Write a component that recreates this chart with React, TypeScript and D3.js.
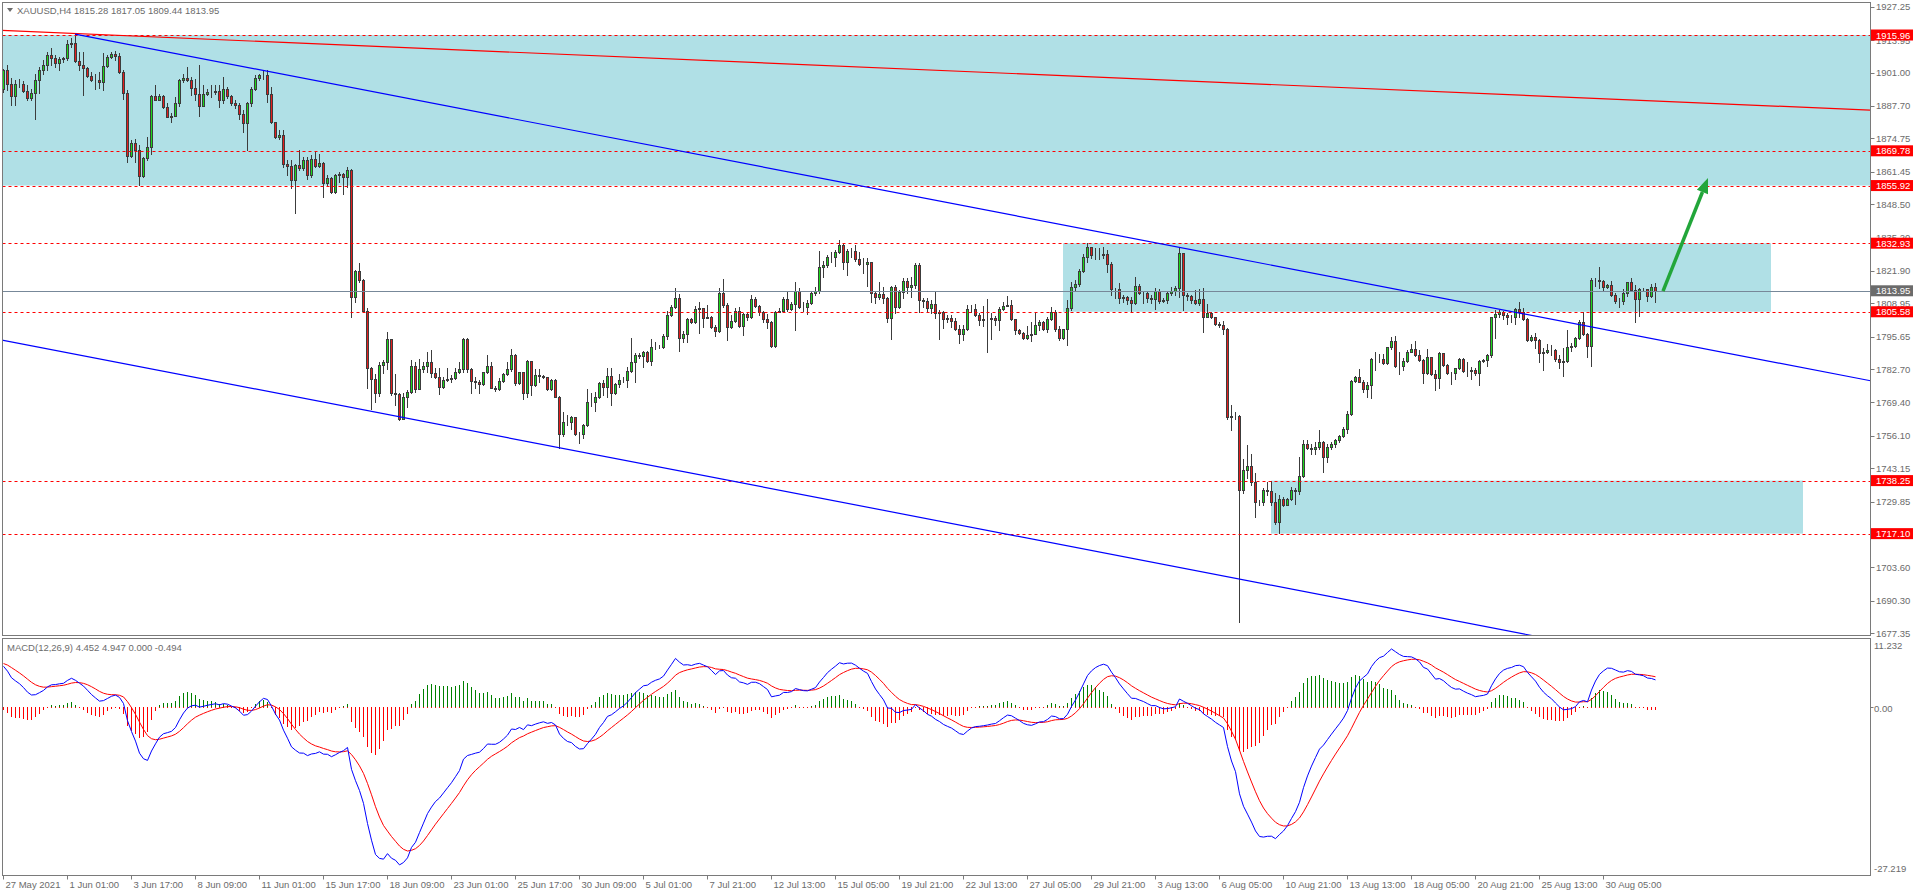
import * as d3 from 'd3';

// header texts
const symbolLabel = 'XAUUSD,H4';
const lastOHLC = ['1815.28', '1817.05', '1809.44', '1813.95'];
const macdHeader = 'MACD(12,26,9) 4.452 4.947 0.000 -0.494';

// H4 candles (open = previous close)
const firstOpen = 1894.6;
const close = [
  1902.0, 1896.6, 1891.7, 1896.6, 1896.4, 1893.7, 1890.9, 1892.8, 1898.2, 1902.2,
  1903.8, 1907.8, 1906.9, 1904.6, 1906.3, 1906.6, 1912.3, 1912.6, 1905.7, 1903.8,
  1903.0, 1899.6, 1898.0, 1898.2, 1897.3, 1903.6, 1907.3, 1908.5, 1907.7, 1901.3,
  1893.0, 1867.8, 1872.7, 1870.0, 1859.9, 1866.8, 1871.1, 1891.6, 1890.2, 1891.6,
  1887.1, 1883.3, 1883.6, 1888.7, 1898.0, 1899.0, 1898.2, 1894.9, 1892.6, 1887.7,
  1892.6, 1893.3, 1893.2, 1893.6, 1890.2, 1894.6, 1891.6, 1888.7, 1887.9, 1884.4,
  1881.0, 1888.7, 1894.6, 1899.0, 1900.0, 1900.2, 1892.6, 1881.1, 1875.4, 1876.0,
  1864.5, 1863.8, 1858.3, 1864.3, 1863.0, 1866.0, 1860.3, 1866.4, 1863.8, 1865.1,
  1856.8, 1859.1, 1853.4, 1860.0, 1860.5, 1859.4, 1862.1, 1811.5, 1821.9, 1818.2,
  1805.9, 1783.2, 1778.6, 1773.0, 1784.5, 1785.6, 1794.6, 1773.0, 1772.7, 1763.0,
  1771.6, 1773.6, 1783.9, 1774.6, 1782.9, 1783.8, 1785.4, 1781.0, 1779.7, 1775.7,
  1778.4, 1778.8, 1779.0, 1781.4, 1782.7, 1794.6, 1782.7, 1778.0, 1777.7, 1776.6,
  1781.4, 1783.9, 1775.3, 1774.8, 1778.0, 1780.7, 1782.6, 1788.3, 1777.0, 1781.4,
  1773.3, 1785.9, 1776.3, 1780.3, 1780.0, 1779.7, 1774.6, 1778.4, 1771.7, 1756.7,
  1761.7, 1761.7, 1763.5, 1756.7, 1756.7, 1760.4, 1769.4, 1769.4, 1771.4, 1777.0,
  1775.7, 1779.9, 1773.3, 1776.6, 1778.4, 1778.4, 1781.9, 1785.4, 1788.3, 1787.9,
  1789.6, 1786.1, 1791.4, 1791.4, 1791.6, 1795.9, 1804.3, 1807.3, 1811.2, 1795.2,
  1796.6, 1802.5, 1801.6, 1806.5, 1806.9, 1803.2, 1803.4, 1799.6, 1798.0, 1812.9,
  1808.3, 1799.6, 1802.0, 1806.0, 1800.0, 1804.5, 1803.5, 1810.7, 1808.0, 1805.6,
  1802.5, 1801.6, 1792.0, 1805.6, 1805.9, 1810.7, 1806.5, 1808.7, 1813.9, 1807.3,
  1807.3, 1808.9, 1812.9, 1814.0, 1823.3, 1824.2, 1827.5, 1827.5, 1829.3, 1832.2,
  1825.3, 1829.8, 1829.8, 1826.5, 1824.5, 1824.5, 1825.3, 1812.9, 1811.6, 1812.5,
  1810.9, 1802.9, 1815.3, 1807.6, 1813.3, 1817.8, 1815.3, 1816.2, 1824.2, 1810.2,
  1809.9, 1806.9, 1808.7, 1804.9, 1805.3, 1802.5, 1802.9, 1802.0, 1798.7, 1796.7,
  1798.9, 1806.7, 1806.7, 1804.3, 1802.3, 1802.5, 1802.5, 1802.9, 1802.3, 1806.5,
  1808.0, 1808.3, 1802.5, 1798.5, 1797.2, 1795.0, 1796.3, 1796.9, 1800.5, 1801.6,
  1798.7, 1802.5, 1805.6, 1798.9, 1795.0, 1798.7, 1806.9, 1815.6, 1816.5, 1821.8,
  1827.3, 1831.3, 1828.2, 1828.2, 1828.2, 1828.5, 1824.5, 1814.5, 1814.5, 1811.2,
  1811.6, 1810.2, 1808.9, 1816.0, 1813.2, 1812.9, 1811.2, 1810.5, 1813.8, 1810.0,
  1810.2, 1812.9, 1814.0, 1814.9, 1828.9, 1812.2, 1811.8, 1810.2, 1808.9, 1810.5,
  1803.6, 1804.9, 1803.6, 1800.9, 1800.5, 1798.9, 1763.7, 1764.0, 1764.0, 1734.4,
  1742.4, 1744.0, 1737.8, 1729.8, 1729.8, 1734.4, 1734.0, 1729.8, 1721.8, 1731.1,
  1728.7, 1731.1, 1734.4, 1734.2, 1740.0, 1752.7, 1751.3, 1751.0, 1751.5, 1753.7,
  1747.5, 1751.5, 1753.0, 1754.4, 1756.0, 1758.8, 1765.0, 1777.9, 1779.4, 1777.7,
  1774.6, 1776.3, 1786.7, 1786.7, 1786.7, 1785.0, 1791.4, 1793.9, 1784.1, 1784.1,
  1785.9, 1789.6, 1790.6, 1788.3, 1786.2, 1781.0, 1787.4, 1780.7, 1779.0, 1789.0,
  1784.3, 1781.0, 1781.0, 1783.0, 1786.6, 1782.0, 1782.0, 1782.3, 1781.0, 1785.9,
  1786.2, 1788.3, 1803.3, 1804.5, 1805.3, 1804.3, 1803.3, 1803.3, 1806.5, 1805.3,
  1802.7, 1794.3, 1795.4, 1794.3, 1789.2, 1789.6, 1790.3, 1790.3, 1786.6, 1785.4,
  1786.0, 1791.4, 1792.0, 1795.0, 1801.6, 1796.7, 1792.0, 1818.2, 1818.2, 1818.0,
  1815.3, 1816.2, 1812.2, 1810.0, 1810.0, 1812.9, 1817.3, 1814.2, 1810.5, 1814.5,
  1814.5, 1812.0, 1815.28, 1813.95,
];
const high = [
  1902.6, 1904.0, 1899.0, 1898.2, 1898.6, 1897.7, 1896.0, 1894.6, 1900.6, 1903.3,
  1906.0, 1909.3, 1910.6, 1908.0, 1907.3, 1907.3, 1913.9, 1914.6, 1916.3, 1909.3,
  1909.3, 1903.3, 1901.3, 1900.6, 1901.3, 1908.6, 1908.0, 1909.3, 1909.7, 1908.6,
  1902.0, 1894.0, 1874.0, 1874.3, 1872.0, 1867.4, 1875.3, 1892.1, 1896.0, 1892.4,
  1892.0, 1888.7, 1884.7, 1891.3, 1898.6, 1900.6, 1903.3, 1899.3, 1898.6, 1904.0,
  1896.0, 1894.6, 1896.0, 1896.0, 1896.0, 1899.3, 1895.3, 1892.0, 1890.0, 1888.7,
  1886.0, 1889.3, 1895.3, 1900.0, 1900.6, 1902.0, 1902.0, 1895.3, 1881.3, 1878.0,
  1878.0, 1866.0, 1866.3, 1864.7, 1870.0, 1867.4, 1867.4, 1868.0, 1869.4, 1868.7,
  1865.4, 1860.0, 1859.4, 1860.5, 1861.4, 1861.0, 1863.4, 1862.5, 1822.4, 1825.1,
  1818.8, 1806.9, 1783.6, 1780.7, 1785.6, 1786.2, 1797.5, 1794.9, 1780.7, 1773.2,
  1773.2, 1774.3, 1786.3, 1785.6, 1786.9, 1785.4, 1789.6, 1790.3, 1783.0, 1783.0,
  1779.7, 1783.0, 1780.3, 1783.0, 1785.7, 1795.0, 1795.0, 1783.3, 1779.7, 1778.4,
  1781.7, 1788.3, 1785.7, 1776.1, 1779.0, 1781.0, 1785.7, 1790.7, 1788.6, 1781.7,
  1781.0, 1786.2, 1785.9, 1782.7, 1782.7, 1780.3, 1778.4, 1778.8, 1778.8, 1771.9,
  1765.7, 1764.6, 1764.1, 1763.5, 1757.7, 1760.7, 1774.7, 1773.0, 1773.7, 1777.7,
  1778.4, 1783.0, 1783.0, 1777.0, 1780.6, 1779.7, 1783.7, 1795.0, 1789.0, 1789.0,
  1789.9, 1789.9, 1794.6, 1793.6, 1792.3, 1796.6, 1805.9, 1808.3, 1815.2, 1812.5,
  1797.9, 1802.9, 1803.2, 1808.0, 1809.6, 1806.9, 1808.3, 1804.0, 1800.5, 1814.9,
  1818.6, 1808.9, 1804.3, 1807.2, 1807.6, 1805.0, 1805.0, 1812.3, 1811.6, 1808.3,
  1805.9, 1804.5, 1801.9, 1805.9, 1806.9, 1811.6, 1813.6, 1809.6, 1817.6, 1814.9,
  1809.3, 1810.3, 1813.6, 1815.6, 1829.8, 1825.8, 1828.2, 1829.3, 1830.2, 1834.2,
  1832.6, 1830.5, 1830.9, 1832.2, 1829.5, 1826.9, 1826.9, 1825.5, 1813.6, 1817.6,
  1815.6, 1811.6, 1815.8, 1816.2, 1814.2, 1818.9, 1818.9, 1819.6, 1825.1, 1824.9,
  1810.9, 1810.9, 1810.2, 1814.0, 1806.3, 1805.9, 1804.3, 1804.3, 1802.9, 1800.3,
  1800.3, 1808.3, 1808.3, 1808.6, 1804.9, 1808.0, 1810.7, 1805.2, 1803.9, 1807.3,
  1809.6, 1811.9, 1810.2, 1802.5, 1798.9, 1797.6, 1799.9, 1801.6, 1805.6, 1802.3,
  1802.0, 1803.6, 1807.3, 1806.3, 1799.9, 1798.9, 1810.2, 1817.6, 1818.2, 1822.5,
  1828.6, 1832.9, 1831.5, 1830.9, 1830.9, 1831.3, 1830.2, 1825.5, 1814.9, 1816.9,
  1812.2, 1811.9, 1811.6, 1819.6, 1816.6, 1814.0, 1813.6, 1812.2, 1814.9, 1814.5,
  1811.2, 1813.6, 1815.3, 1815.8, 1831.3, 1828.9, 1812.9, 1812.2, 1814.2, 1814.5,
  1814.9, 1808.6, 1805.6, 1803.3, 1801.6, 1802.0, 1799.3, 1768.4, 1765.7, 1764.6,
  1746.7, 1752.4, 1748.7, 1741.1, 1730.5, 1735.1, 1737.8, 1738.0, 1733.5, 1732.5,
  1731.8, 1731.4, 1735.5, 1735.4, 1747.7, 1754.4, 1754.4, 1753.0, 1753.5, 1758.4,
  1754.0, 1753.0, 1753.7, 1755.0, 1756.6, 1759.7, 1766.0, 1778.3, 1780.0, 1782.6,
  1778.3, 1777.7, 1787.0, 1789.6, 1788.7, 1788.7, 1791.6, 1795.6, 1795.9, 1789.6,
  1787.0, 1790.3, 1792.6, 1793.9, 1790.3, 1786.6, 1790.7, 1787.6, 1782.3, 1789.4,
  1789.2, 1784.6, 1781.7, 1783.2, 1787.0, 1787.0, 1785.6, 1783.4, 1783.0, 1786.3,
  1786.6, 1788.7, 1803.6, 1806.3, 1806.3, 1805.9, 1804.9, 1804.3, 1806.9, 1809.6,
  1807.2, 1802.9, 1796.3, 1797.3, 1794.6, 1791.0, 1792.9, 1792.3, 1790.7, 1788.3,
  1791.0, 1798.3, 1793.0, 1795.6, 1802.3, 1805.6, 1797.3, 1818.9, 1819.2, 1823.3,
  1818.2, 1816.5, 1817.8, 1812.9, 1811.2, 1814.5, 1817.6, 1819.2, 1816.2, 1815.2,
  1815.2, 1814.2, 1816.5, 1817.05,
];
const low = [
  1893.3, 1894.0, 1888.0, 1888.0, 1895.3, 1893.3, 1890.0, 1890.0, 1882.3, 1893.0,
  1900.6, 1902.2, 1904.0, 1903.3, 1902.0, 1905.3, 1906.0, 1911.3, 1905.3, 1902.0,
  1892.2, 1899.3, 1897.6, 1894.6, 1894.9, 1894.2, 1903.3, 1906.6, 1906.0, 1900.9,
  1890.5, 1865.4, 1867.4, 1865.4, 1856.0, 1859.4, 1866.3, 1868.7, 1890.0, 1890.0,
  1886.7, 1883.1, 1881.3, 1884.0, 1887.6, 1897.3, 1897.7, 1892.0, 1890.0, 1883.6,
  1887.6, 1892.0, 1891.3, 1892.4, 1887.3, 1888.7, 1891.0, 1888.0, 1886.7, 1882.3,
  1877.4, 1870.0, 1887.6, 1894.0, 1898.0, 1898.6, 1889.3, 1880.7, 1874.7, 1874.3,
  1863.4, 1860.0, 1854.8, 1844.8, 1862.0, 1862.0, 1858.7, 1859.4, 1863.4, 1863.4,
  1851.4, 1856.1, 1853.0, 1853.0, 1857.4, 1852.7, 1855.4, 1803.5, 1809.5, 1817.5,
  1805.5, 1775.0, 1767.0, 1769.6, 1771.9, 1781.2, 1782.9, 1772.3, 1768.3, 1762.6,
  1763.0, 1767.6, 1773.0, 1773.6, 1775.0, 1781.7, 1781.7, 1779.7, 1779.0, 1772.6,
  1775.0, 1778.0, 1777.7, 1778.8, 1781.0, 1781.7, 1781.7, 1773.3, 1775.0, 1773.0,
  1776.3, 1781.0, 1775.0, 1774.0, 1774.4, 1777.7, 1780.3, 1782.0, 1776.3, 1776.6,
  1770.6, 1771.7, 1772.4, 1775.9, 1777.7, 1779.0, 1774.4, 1774.4, 1771.4, 1751.1,
  1756.1, 1760.4, 1759.0, 1756.4, 1753.3, 1755.1, 1760.1, 1768.1, 1766.0, 1771.0,
  1772.4, 1771.7, 1768.4, 1772.6, 1775.7, 1777.7, 1775.7, 1781.7, 1777.7, 1787.0,
  1783.7, 1785.7, 1784.3, 1790.7, 1791.0, 1791.0, 1794.7, 1804.0, 1806.9, 1789.9,
  1793.6, 1793.6, 1801.2, 1801.3, 1797.0, 1799.6, 1803.0, 1799.2, 1796.0, 1797.6,
  1807.6, 1794.3, 1799.2, 1801.6, 1799.6, 1796.3, 1802.3, 1803.2, 1807.6, 1804.3,
  1801.6, 1799.2, 1791.6, 1791.6, 1805.3, 1805.6, 1805.9, 1806.3, 1798.5, 1806.9,
  1805.9, 1804.5, 1808.5, 1812.3, 1812.9, 1819.6, 1823.6, 1825.6, 1823.8, 1828.9,
  1822.5, 1820.2, 1827.5, 1825.9, 1824.2, 1820.9, 1815.8, 1809.6, 1808.9, 1810.5,
  1809.2, 1801.6, 1794.9, 1804.9, 1806.9, 1810.9, 1812.9, 1811.6, 1814.9, 1805.6,
  1807.6, 1805.6, 1805.2, 1802.9, 1794.9, 1799.3, 1801.6, 1799.6, 1798.3, 1793.0,
  1794.3, 1798.5, 1805.6, 1803.9, 1800.5, 1800.0, 1789.6, 1794.9, 1800.3, 1798.3,
  1806.3, 1807.9, 1802.3, 1796.7, 1796.7, 1794.6, 1794.6, 1794.0, 1796.7, 1798.3,
  1798.3, 1797.6, 1802.3, 1798.0, 1794.3, 1794.6, 1792.3, 1806.3, 1814.2, 1816.0,
  1821.6, 1825.5, 1826.9, 1826.5, 1826.5, 1826.9, 1821.6, 1812.2, 1810.9, 1808.9,
  1809.6, 1808.6, 1805.6, 1808.7, 1812.6, 1808.9, 1809.6, 1808.9, 1806.7, 1809.2,
  1809.6, 1808.9, 1812.2, 1812.2, 1811.6, 1806.3, 1810.2, 1808.9, 1808.6, 1808.3,
  1797.6, 1803.3, 1802.9, 1800.3, 1799.6, 1796.9, 1763.0, 1758.6, 1763.0, 1681.9,
  1733.4, 1739.1, 1736.4, 1723.8, 1728.5, 1728.7, 1732.7, 1728.5, 1721.1, 1717.5,
  1728.2, 1728.5, 1730.5, 1729.1, 1733.1, 1739.8, 1751.0, 1748.8, 1748.7, 1751.0,
  1741.5, 1745.5, 1751.0, 1751.7, 1753.7, 1755.7, 1757.1, 1764.4, 1777.7, 1777.4,
  1773.7, 1771.7, 1771.0, 1782.3, 1785.4, 1784.6, 1784.6, 1790.9, 1783.7, 1780.6,
  1782.3, 1785.6, 1789.4, 1788.0, 1785.9, 1777.3, 1780.6, 1780.3, 1774.3, 1775.3,
  1784.0, 1780.7, 1776.6, 1778.7, 1782.7, 1781.7, 1780.0, 1778.6, 1780.3, 1776.3,
  1785.6, 1784.0, 1787.6, 1795.2, 1803.6, 1802.7, 1800.9, 1801.6, 1800.9, 1803.6,
  1802.3, 1793.9, 1793.9, 1791.2, 1785.6, 1782.3, 1789.2, 1788.3, 1785.9, 1783.2,
  1780.0, 1785.4, 1789.9, 1791.6, 1794.7, 1796.5, 1787.6, 1784.0, 1815.8, 1814.9,
  1814.2, 1814.9, 1812.0, 1808.9, 1807.6, 1808.5, 1812.0, 1813.8, 1801.6, 1804.0,
  1814.0, 1810.0, 1811.6, 1809.44,
];

// time axis: one label every 16 bars
const barsPerLabel = 16;
const timeLabels = [
  '27 May 2021', '1 Jun 01:00', '3 Jun 17:00', '8 Jun 09:00', '11 Jun 01:00', '15 Jun 17:00',
  '18 Jun 09:00', '23 Jun 01:00', '25 Jun 17:00', '30 Jun 09:00', '5 Jul 01:00', '7 Jul 21:00',
  '12 Jul 13:00', '15 Jul 05:00', '19 Jul 21:00', '22 Jul 13:00', '27 Jul 05:00', '29 Jul 21:00',
  '3 Aug 13:00', '6 Aug 05:00', '10 Aug 21:00', '13 Aug 13:00', '18 Aug 05:00', '20 Aug 21:00',
  '25 Aug 13:00', '30 Aug 05:00',
];

const priceTicks = [
  1927.25, 1913.95, 1901.0, 1887.7, 1874.75, 1861.45, 1848.5, 1835.2, 1821.9, 1808.95,
  1795.65, 1782.7, 1769.4, 1756.1, 1743.15, 1729.85, 1716.55, 1703.6, 1690.3, 1677.35,
];
const levelPrices = [1915.96, 1869.78, 1855.92, 1832.93, 1805.58, 1738.25, 1717.1];
const lastPrice = 1813.95;

const macdTicks = [11.232, 0, -27.219];
const macdTickLabels = ['11.232', '0.00', '-27.219'];
const macdSeed = { ema12: 1900, ema26: 1893, signal: 7.2 };

// rectangles: [fromBar, toBar, topPrice, bottomPrice]
const zones = [
  [-2, 480, 1915.96, 1855.92],
  [265, 442, 1832.93, 1805.58],
  [317, 450, 1738.25, 1717.1],
];
// trend lines: [bar, price] pairs
const redTrend = [[-0.25, 1917.8], [466.75, 1886.0]];
const upperChannel = [[18, 1916.3], [294, 1831.3]];
const lowerChannel = [[-0.25, 1794.3], [139, 1751.4]];
const targetArrow = [[415, 1813.8], [426.25, 1858.9]];

const FONT = 'Liberation Sans, Arial, sans-serif';
const TXT = '#6b6b6b';
const FRAME = '#7a7a7a';

export default function App() {
  const W = 1916, H = 896;
  const left = 2.5, right = 1870.5;
  const mainTop = 2.5, mainBottom = 635.5, macdTop = 638.5, macdBottom = 875.5;

  const x = d3.scaleLinear().domain([0, 1]).range([3, 7]);
  const y = d3.scaleLinear().domain([1927.25, 1677.35]).range([6.7, 633.3]);
  const ym = d3.scaleLinear().domain([11.232, -27.219]).range([638, 875]);
  const endBar = x.invert(right);

  const candles = close.map((c, i) => {
    const o = i === 0 ? firstOpen : close[i - 1];
    return { i, o, c, h: Math.max(high[i], o, c), l: Math.min(low[i], o, c) };
  });

  // MACD(12,26,9) from closes
  let e12 = macdSeed.ema12, e26 = macdSeed.ema26, sig = macdSeed.signal;
  const macd = close.map((c, i) => {
    e12 += (2 / 13) * (c - e12);
    e26 += (2 / 27) * (c - e26);
    const m = e12 - e26;
    sig += (2 / 10) * (m - sig);
    return { i, m, s: sig, h: m - sig };
  });

  const ray = (pts: number[][], toEnd: boolean) => {
    const [[i0, p0], [i1, p1]] = pts;
    const slope = (p1 - p0) / (i1 - i0);
    const iEnd = toEnd ? endBar : i1;
    return { x1: x(i0), y1: y(p0), x2: x(iEnd), y2: y(p0 + slope * (iEnd - i0)) };
  };
  const red = ray(redTrend, false);
  const up = ray(upperChannel, true);
  const lo = ray(lowerChannel, true);

  const macdLine = (key: 'm' | 's') =>
    d3.line<{ i: number; m: number; s: number }>()
      .x(d => x(d.i) + 0.5)
      .y(d => ym(d[key]))(macd) || '';

  const zeroRow = Math.round(ym(0));

  // arrow
  const ax1 = x(targetArrow[0][0]), ay1 = y(targetArrow[0][1]);
  const ax2 = x(targetArrow[1][0]), ay2 = y(targetArrow[1][1]);
  const ang = Math.atan2(ay2 - ay1, ax2 - ax1);
  const headLen = 15, headW = 6;
  const bx = ax2 - headLen * Math.cos(ang), by = ay2 - headLen * Math.sin(ang);
  const nx = -Math.sin(ang), ny = Math.cos(ang);
  const head = `${ax2},${ay2} ${bx + nx * headW},${by + ny * headW} ${bx - nx * headW},${by - ny * headW}`;

  const labelBox = (p: number, txt: string, fill: string, key: string) => {
    const cy = y(p);
    return (
      <g key={key}>
        <rect x={1871} y={cy - 5.5} width={42} height={11} fill={fill} />
        <text x={1876} y={cy} dominantBaseline="central" fill="#ffffff" fontSize={9.5}>{txt}</text>
      </g>
    );
  };

  return (
    <svg width={W} height={H} style={{ position: 'absolute', left: 0, top: 0, background: '#fff' }}
      fontFamily={FONT}>
      <defs>
        <clipPath id="mainClip">
          <rect x={left} y={mainTop} width={right - left} height={mainBottom - mainTop} />
        </clipPath>
        <clipPath id="macdClip">
          <rect x={left} y={macdTop} width={right - left} height={macdBottom - macdTop} />
        </clipPath>
      </defs>

      <g clipPath="url(#mainClip)">
        {zones.map(([a, b, t, btm], k) => (
          <rect key={k} x={x(a)} y={y(t)} width={x(b) - x(a)} height={y(btm) - y(t)} fill="#b0e0e6" />
        ))}

        {candles.map(d => {
          const cx = x(d.i);
          const yo = Math.round(y(d.o)), yc = Math.round(y(d.c));
          const top = Math.min(yo, yc), bot = Math.max(yo, yc);
          return (
            <g key={d.i}>
              <line x1={cx + 0.5} x2={cx + 0.5} y1={Math.round(y(d.h))} y2={Math.round(y(d.l)) + 1}
                stroke="#3c3c3c" strokeWidth={1} />
              <rect x={cx - 0.5} y={top + 0.5} width={2} height={bot - top}
                fill={d.c >= d.o ? '#1cd81c' : '#e31e1e'} stroke="#3c3c3c" strokeWidth={1} />
            </g>
          );
        })}

        {levelPrices.map(p => (
          <line key={p} x1={left} x2={right} y1={Math.round(y(p)) + 0.5} y2={Math.round(y(p)) + 0.5}
            stroke="#ff0000" strokeWidth={1} strokeDasharray="3,3" />
        ))}
        <line x1={left} x2={right} y1={Math.round(y(lastPrice)) + 0.5} y2={Math.round(y(lastPrice)) + 0.5}
          stroke="#778899" strokeWidth={1} />

        <line {...red} stroke="#ff0000" strokeWidth={1.2} />
        <line {...up} stroke="#0000ff" strokeWidth={1.2} />
        <line {...lo} stroke="#0000ff" strokeWidth={1.2} />

        <line x1={ax1} y1={ay1} x2={bx} y2={by} stroke="#22a63a" strokeWidth={3.5} />
        <polygon points={head} fill="#22a63a" />
      </g>

      <g clipPath="url(#macdClip)">
        {macd.map(d => {
          const cx = x(d.i);
          const yv = Math.round(ym(d.h));
          return (
            <g key={d.i}>
              <rect x={cx} y={zeroRow} width={1} height={1} fill="#ff0000" />
              {d.h > 0 && yv < zeroRow && (
                <rect x={cx} y={yv} width={1} height={zeroRow - yv} fill="#008000" />
              )}
              {d.h < 0 && yv > zeroRow && (
                <rect x={cx} y={zeroRow} width={1} height={yv - zeroRow} fill="#ff0000" />
              )}
            </g>
          );
        })}
        <path d={macdLine('s')} fill="none" stroke="#ff0000" strokeWidth={1} />
        <path d={macdLine('m')} fill="none" stroke="#0000ff" strokeWidth={1} />
      </g>

      {/* frames */}
      <rect x={left} y={mainTop} width={right - left} height={mainBottom - mainTop} fill="none" stroke={FRAME} />
      <rect x={left} y={macdTop} width={right - left} height={macdBottom - macdTop} fill="none" stroke={FRAME} />

      {/* header */}
      <polygon points="7,8 13,8 10,12" fill={TXT} />
      <text x={17} y={10.5} dominantBaseline="central" fontSize={9.5} fill={TXT}>
        {symbolLabel}{'  '}{lastOHLC.join(' ')}
      </text>
      <text x={7} y={647} dominantBaseline="central" fontSize={9.5} fill={TXT}>{macdHeader}</text>

      {/* price axis */}
      {priceTicks.map(p => (
        <g key={p}>
          <line x1={right} x2={right + 4} y1={Math.round(y(p)) + 0.5} y2={Math.round(y(p)) + 0.5} stroke={FRAME} />
          <text x={1876} y={y(p)} dominantBaseline="central" fontSize={9.5} fill={TXT}>{p.toFixed(2)}</text>
        </g>
      ))}
      {levelPrices.map(p => labelBox(p, p.toFixed(2), '#ff0000', 'l' + p))}
      {labelBox(lastPrice, lastPrice.toFixed(2), '#6b6b6b', 'last')}

      {/* macd axis */}
      {macdTicks.map((v, k) => (
        <g key={v}>
          {k === 1 && <line x1={right} x2={right + 3} y1={zeroRow + 0.5} y2={zeroRow + 0.5} stroke={FRAME} />}
          <text x={1874} y={k === 0 ? 645 : k === 1 ? ym(v) + 1 : 868}
            dominantBaseline="central" fontSize={9.5} fill={TXT}>{macdTickLabels[k]}</text>
        </g>
      ))}

      {/* time axis */}
      {timeLabels.map((t, k) => {
        const tx = x(k * barsPerLabel) + 0.5;
        return (
          <g key={t}>
            <line x1={tx} x2={tx} y1={macdBottom} y2={macdBottom + 4} stroke={FRAME} />
            <text x={tx + 2} y={884} dominantBaseline="central" fontSize={9.5} fill={TXT}>{t}</text>
          </g>
        );
      })}
    </svg>
  );
}
